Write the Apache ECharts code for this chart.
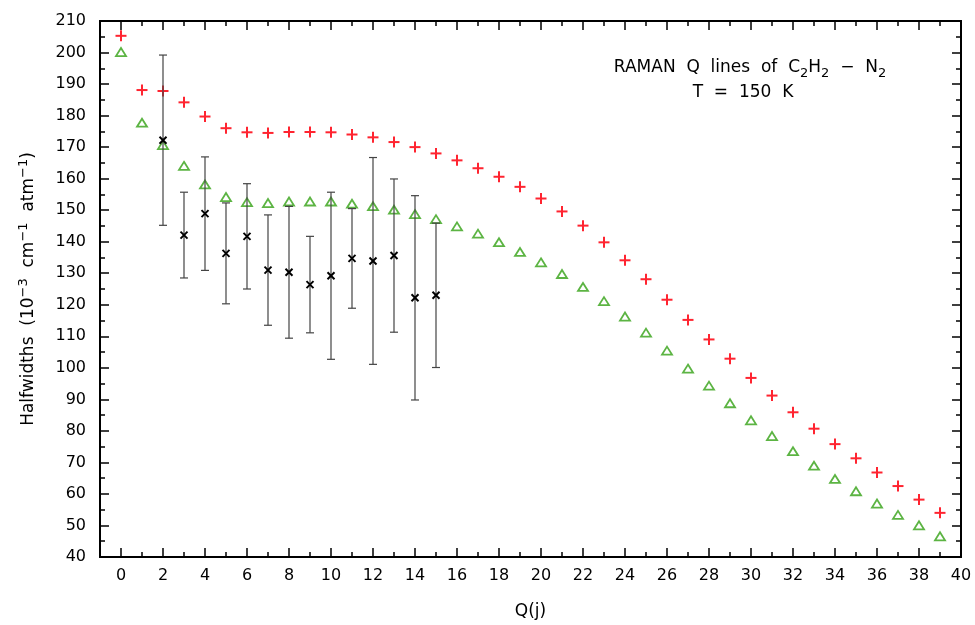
<!DOCTYPE html>
<html>
<head>
<meta charset="utf-8">
<script src="https://cdn.jsdelivr.net/npm/echarts@6/dist/echarts.min.js"></script>
<style>
html,body{margin:0;padding:0;background:#fff;}
#chart{width:975px;height:625px;}
</style>
</head>
<body>
<div id="chart"></div>
<script>
// Q(j) values for the computed series
const jValues = [0,1,2,3,4,5,6,7,8,9,10,11,12,13,14,15,16,17,18,19,20,21,22,23,24,25,26,27,28,29,30,31,32,33,34,35,36,37,38,39];
// red "+" series
const plusValues = [205.3,188.1,187.8,184.2,179.7,176.0,174.7,174.5,174.8,174.8,174.7,174.0,173.1,171.6,170.0,168.0,165.8,163.3,160.6,157.4,153.7,149.6,145.1,139.8,134.1,128.1,121.6,115.2,109.0,102.9,96.8,91.2,85.9,80.7,75.8,71.3,66.8,62.5,58.2,54.0];
// green triangle series
const triValues = [200.0,177.6,170.5,163.9,158.0,154.0,152.4,152.1,152.6,152.6,152.6,151.9,151.1,150.0,148.6,147.0,144.7,142.4,139.7,136.6,133.3,129.6,125.5,121.0,116.1,111.0,105.3,99.6,94.2,88.6,83.2,78.2,73.4,68.8,64.6,60.7,56.8,53.2,49.9,46.4];
// experimental points with symmetric error bars
const expJ = [2,3,4,5,6,7,8,9,10,11,12,13,14,15];
const expValues = [172.2,142.1,148.9,136.3,141.7,131.0,130.3,126.4,129.2,134.7,133.9,135.6,122.2,123.0];
const expErrors = [27.0,13.6,18.0,16.0,16.7,17.5,20.9,15.3,26.5,15.8,32.8,24.3,32.4,22.9];
// tick labels
const xTickLabels = [0,2,4,6,8,10,12,14,16,18,20,22,24,26,28,30,32,34,36,38,40];
const xMinorTicks = [-1,1,3,5,7,9,11,13,15,17,19,21,23,25,27,29,31,33,35,37,39];

const FONT = 'DejaVu Sans';
const RED = '#ff2430';
const GREEN = '#5cb443';
const AXIS_COLOR = '#000';

const chart = echarts.init(document.getElementById('chart'), null, {renderer: 'canvas'});

const axisLineStyle = {color: AXIS_COLOR, width: 2};

function xAxisDef(pos, withLabels, major) {
  return {
    type: 'value', position: pos, min: -1, max: 40, interval: 1,
    axisLine: {show: true, onZero: false, lineStyle: axisLineStyle},
    axisTick: {show: true, inside: true, length: major ? 9 : 5,
      customValues: major ? xTickLabels : xMinorTicks,
      lineStyle: {color: AXIS_COLOR, width: 1.5}},
    axisLabel: withLabels ? {show: true, customValues: xTickLabels, margin: 11,
      fontFamily: FONT, fontSize: 16, color: '#000'} : {show: false},
    splitLine: {show: false},
    name: withLabels ? 'Q(j)' : '',
    nameLocation: 'middle', nameGap: 46,
    nameTextStyle: {fontFamily: FONT, fontSize: 17, color: '#000'}
  };
}
function yAxisDef(pos, withLabels) {
  return {
    type: 'value', position: pos, min: 40, max: 210, interval: 10,
    axisLine: {show: true, onZero: false, lineStyle: axisLineStyle},
    axisTick: {show: true, inside: true, length: 9, lineStyle: {color: AXIS_COLOR, width: 1.5}},
    minorTick: {show: true, splitNumber: 2, length: 5, lineStyle: {color: AXIS_COLOR, width: 1.5}},
    axisLabel: withLabels ? {show: true, margin: 14, fontFamily: FONT, fontSize: 16, color: '#000'} : {show: false},
    splitLine: {show: false},
    minorSplitLine: {show: false},
    name: withLabels ? '{n|Halfwidths  (10}{p|−3}{n|  cm}{p|−1}{n|  atm}{p|−1}{n|)}' : '',
    nameLocation: 'middle', nameRotate: 90, nameGap: 59,
    nameTextStyle: {
      fontFamily: FONT, fontSize: 17, color: '#000',
      rich: {
        n: {fontFamily: FONT, fontSize: 17, color: '#000', lineHeight: 24, verticalAlign: 'middle'},
        p: {fontFamily: FONT, fontSize: 13, color: '#000', lineHeight: 14, verticalAlign: 'top'}
      }
    }
  };
}

const plusData = jValues.map((x, i) => [x, plusValues[i]]);
const triData = jValues.map((x, i) => [x, triValues[i]]);
const expData = expJ.map((x, i) => [x, expValues[i], expErrors[i]]);

const option = {
  animation: false,
  backgroundColor: '#fff',
  grid: {left: 100, top: 21, width: 861, height: 538, containLabel: false},
  xAxis: [xAxisDef('bottom', true, true), xAxisDef('bottom', false, false),
          xAxisDef('top', false, true), xAxisDef('top', false, false)],
  yAxis: [yAxisDef('left', true), yAxisDef('right', false)],
  graphic: [
    {
      type: 'text', x: 750, y: 68,
      style: {
        align: 'center', verticalAlign: 'middle',
        text: '{n|RAMAN  Q  lines  of  C}{s|2}{n|H}{s|2}{n|  −  N}{s|2}',
        rich: {
          n: {fontFamily: FONT, fontSize: 17, fill: '#000', lineHeight: 24, verticalAlign: 'middle'},
          s: {fontFamily: FONT, fontSize: 13, fill: '#000', lineHeight: 15, verticalAlign: 'bottom'}
        }
      }
    },
    {
      type: 'text', x: 743, y: 93,
      style: {
        align: 'center', verticalAlign: 'middle',
        text: 'T  =  150  K', fontFamily: FONT, fontSize: 17, fill: '#000'
      }
    }
  ],
  series: [
    {
      type: 'custom', name: 'plus', xAxisIndex: 0, yAxisIndex: 0, data: plusData,
      renderItem: function (params, api) {
        const p = api.coord([api.value(0), api.value(1)]);
        const s = 5.5;
        return {type: 'group', children: [
          {type: 'line', shape: {x1: p[0] - s, y1: p[1], x2: p[0] + s, y2: p[1]}, style: {stroke: RED, lineWidth: 2}},
          {type: 'line', shape: {x1: p[0], y1: p[1] - s, x2: p[0], y2: p[1] + s}, style: {stroke: RED, lineWidth: 2}}
        ]};
      }
    },
    {
      type: 'custom', name: 'tri', xAxisIndex: 0, yAxisIndex: 0, data: triData,
      renderItem: function (params, api) {
        const p = api.coord([api.value(0), api.value(1)]);
        return {type: 'polygon', shape: {points: [[p[0], p[1] - 4.5], [p[0] + 5, p[1] + 3.5], [p[0] - 5, p[1] + 3.5]]},
          style: {fill: 'none', stroke: GREEN, lineWidth: 1.8}};
      }
    },
    {
      type: 'custom', name: 'exp', xAxisIndex: 0, yAxisIndex: 0, data: expData,
      renderItem: function (params, api) {
        const x = api.value(0), v = api.value(1), e = api.value(2);
        const top = api.coord([x, v + e]);
        const bot = api.coord([x, v - e]);
        const c = api.coord([x, v]);
        const cw = 4, m = 3.5;
        const barStyle = {stroke: '#444', lineWidth: 1.2};
        const mStyle = {stroke: '#000', lineWidth: 2};
        return {type: 'group', children: [
          {type: 'line', shape: {x1: top[0], y1: top[1], x2: bot[0], y2: bot[1]}, style: barStyle},
          {type: 'line', shape: {x1: top[0] - cw, y1: top[1], x2: top[0] + cw, y2: top[1]}, style: barStyle},
          {type: 'line', shape: {x1: bot[0] - cw, y1: bot[1], x2: bot[0] + cw, y2: bot[1]}, style: barStyle},
          {type: 'line', shape: {x1: c[0] - m, y1: c[1] - m, x2: c[0] + m, y2: c[1] + m}, style: mStyle},
          {type: 'line', shape: {x1: c[0] - m, y1: c[1] + m, x2: c[0] + m, y2: c[1] - m}, style: mStyle}
        ]};
      }
    }
  ]
};
chart.setOption(option);
</script>
</body>
</html>
